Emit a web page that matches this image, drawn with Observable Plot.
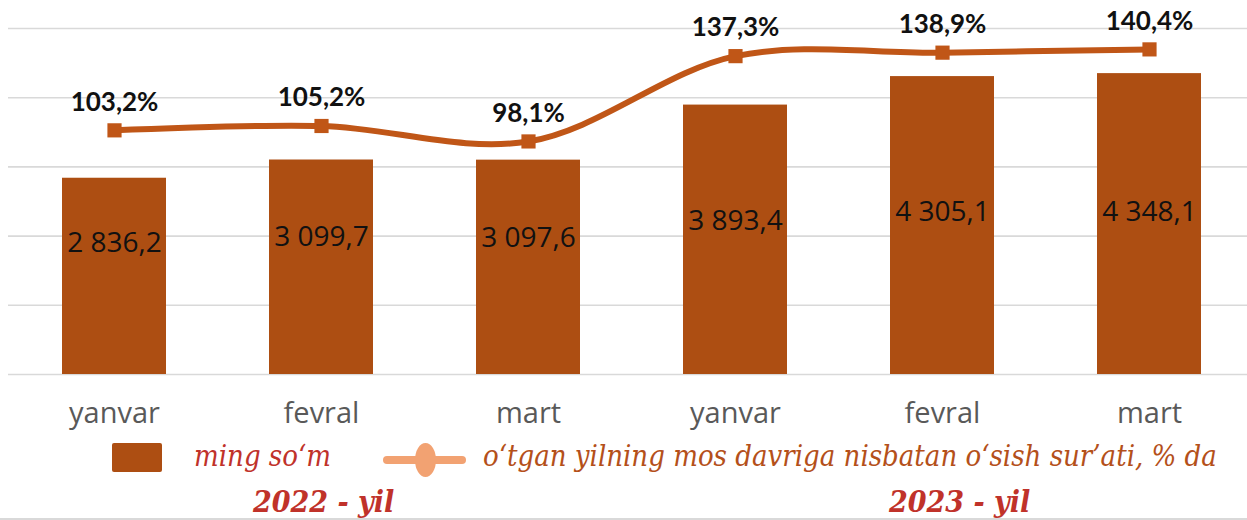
<!DOCTYPE html>
<html><head><meta charset="utf-8">
<script src="https://cdn.jsdelivr.net/npm/d3@7"></script>
<script src="https://cdn.jsdelivr.net/npm/@observablehq/plot@0.6"></script>
<style>
html,body{margin:0;padding:0;background:#fff;width:1247px;height:520px;overflow:hidden;}
#wrap{position:relative;width:1247px;height:520px;}
#wrap svg{position:absolute;left:0;top:0;overflow:visible;}
.leg{position:absolute;white-space:nowrap;}
</style></head>
<body><div id="wrap"></div>
<script>
const keys = ["2022-01","2022-02","2022-03","2023-01","2023-02","2023-03"];
const monthLabels = ["yanvar","fevral","mart","yanvar","fevral","mart"];
const amounts = [2836.2, 3099.7, 3097.6, 3893.4, 4305.1, 4348.1];
const growth = [103.2, 105.2, 98.1, 137.3, 138.9, 140.4];
const yearLabels = ["2022 - yil","2023 - yil"];
const legendLabels = ["ming so‘m","o‘tgan yilning mos davriga nisbatan o‘sish sur’ati, % da"];

const fmtAmt = v => d3.format(",.1f")(v).replace(",", " ").replace(".", ",");
const fmtPct = v => d3.format(".1f")(v).replace(".", ",") + "%";

const bars = keys.map((k,i)=>({key:k, label:monthLabels[i], value:amounts[i]}));
const pts = keys.map((k,i)=>({key:k, value:growth[i]}));

const W = 1247, H = 440, mT = 28, mB = 66, mL = 8, mR = -7;
const barColor = "#AD4E12", lineColor = "#C05617";
const xOpts = {domain: keys, paddingInner: 0.5, paddingOuter: 0.25};

const p1 = Plot.plot({
  width: W, height: H, marginTop: mT, marginBottom: mB, marginLeft: mL, marginRight: mR,
  style: {background: "transparent", overflow: "visible"},
  x: {...xOpts, axis: null, label: null},
  y: {domain: [0, 5000], axis: null},
  marks: [
    Plot.ruleY([0,1000,2000,3000,4000,5000], {stroke: "#d9d9d9", strokeWidth: 1.6}),
    Plot.barY(bars, {x: "key", y: "value", fill: barColor}),
    Plot.text(bars, {x: "key", y: d => 1050 + 0.3*d.value, text: d => fmtAmt(d.value),
      fontSize: 28, fill: "#111", fontFamily: "Open Sans"}),
    Plot.axisX({tickSize: 0, tickPadding: 28, fontSize: 29, fill: "#595959", fontFamily: "Open Sans",
      label: null, tickFormat: d => monthLabels[keys.indexOf(d)]})
  ]
});

const p2 = Plot.plot({
  width: W, height: H, marginTop: mT, marginBottom: mB, marginLeft: mL, marginRight: mR,
  style: {background: "transparent", overflow: "visible"},
  x: {...xOpts, axis: null},
  y: {domain: [-9, 150], axis: null},
  marks: [
    Plot.line(pts, {x: "key", y: "value", stroke: lineColor, strokeWidth: 6, curve: "catmull-rom"}),
    Plot.dot(pts, {x: "key", y: "value", symbol: "square", r: 8, fill: lineColor, stroke: "none"}),
    Plot.text(pts, {x: "key", y: "value", text: d => fmtPct(d.value), dy: -28,
      fontSize: 26, fontWeight: "bold", fill: "#111", fontFamily: "Lato"})
  ]
});

const wrap = document.getElementById("wrap");
wrap.appendChild(p1);
wrap.appendChild(p2);

function addDiv(html, css){ const d=document.createElement("div"); d.className="leg"; d.style.cssText=css; d.innerHTML=html; wrap.appendChild(d); return d; }
// legend
addDiv("", "left:112px;top:443px;width:50px;height:29px;background:"+barColor+";border-radius:2px;");
addDiv(legendLabels[0], "left:194px;top:439px;font:italic 29px 'DejaVu Serif Condensed';color:#C0322A;");
addDiv("", "left:383px;top:456px;width:83px;height:8px;background:#F2A272;border-radius:4px;");
addDiv("", "left:415px;top:443px;width:21px;height:34px;background:#F2A272;border-radius:50%;");
addDiv(legendLabels[1], "left:483px;top:439px;font:italic 29px 'DejaVu Serif Condensed';color:#B4501A;");
addDiv(yearLabels[0], "left:253px;top:484px;font:italic bold 30px 'DejaVu Serif Condensed';color:#C0322A;");
addDiv(yearLabels[1], "left:889px;top:484px;font:italic bold 30px 'DejaVu Serif Condensed';color:#C0322A;");
addDiv("", "left:0;top:518px;width:1247px;height:2px;background:#d9d9d9;");
</script></body></html>
